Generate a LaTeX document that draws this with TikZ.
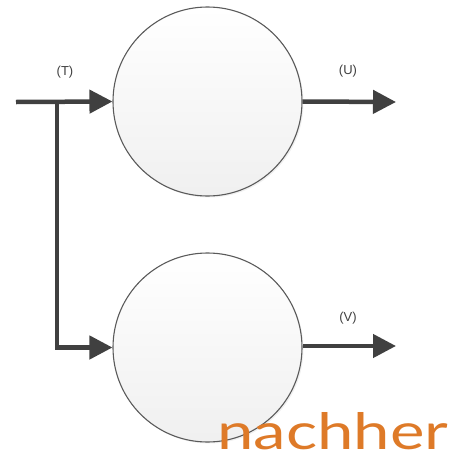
\documentclass[tikz,border=0pt]{standalone}
\usepackage{fontspec}
\setmainfont{Liberation Sans}
\newfontfamily\handfont{Lato}
\usetikzlibrary{arrows.meta,shadows}
\definecolor{flowgray}{RGB}{64,64,64}
\definecolor{rimgray}{RGB}{90,90,90}
\definecolor{noteorange}{RGB}{222,122,40}
\tikzset{
  block/.style={circle,draw=rimgray,line width=1.1pt,minimum size=189pt,inner sep=0pt,
    top color=white,bottom color=black!6,
    drop shadow={opacity=0.12,shadow xshift=1.5pt,shadow yshift=-1.5pt}},
  flow/.style={draw=flowgray,line width=4.5pt,-{Triangle[length=23pt,width=23pt]}},
  tag/.style={text=flowgray,font=\fontsize{13}{15}\selectfont,inner sep=0pt}
}

\begin{document}
\begin{tikzpicture}[x=1pt,y=-1pt]
  \useasboundingbox (0,0) rectangle (455,469);
  % the two blocks
  \node[block] (top) at (207.5,101.5) {};
  \node[block] (bot) at (207.5,347.5) {};
  % input and branch
  \coordinate (in) at (16,102);
  \coordinate (fork) at (57,102);
  \coordinate (outU) at (396,102);
  \coordinate (outV) at (396,346);
  \draw[flow] (in) -- (top.west);
  \draw[flow] (fork) |- (bot.west);
  % outputs
  \draw[flow] (top.east) -- (outU);
  \draw[flow] (bot.east |- outV) -- (outV);
  % labels
  \node[tag] (labT) at (65,72) {(T)};
  \node[tag] (labU) at (348,71) {(U)};
  \node[tag] (labV) at (348,318) {(V)};
  \node[anchor=south west,inner sep=0pt,text=noteorange] (note) at (217,450)
    {\resizebox{231pt}{37pt}{\handfont nachher}};
\end{tikzpicture}
\end{document}
